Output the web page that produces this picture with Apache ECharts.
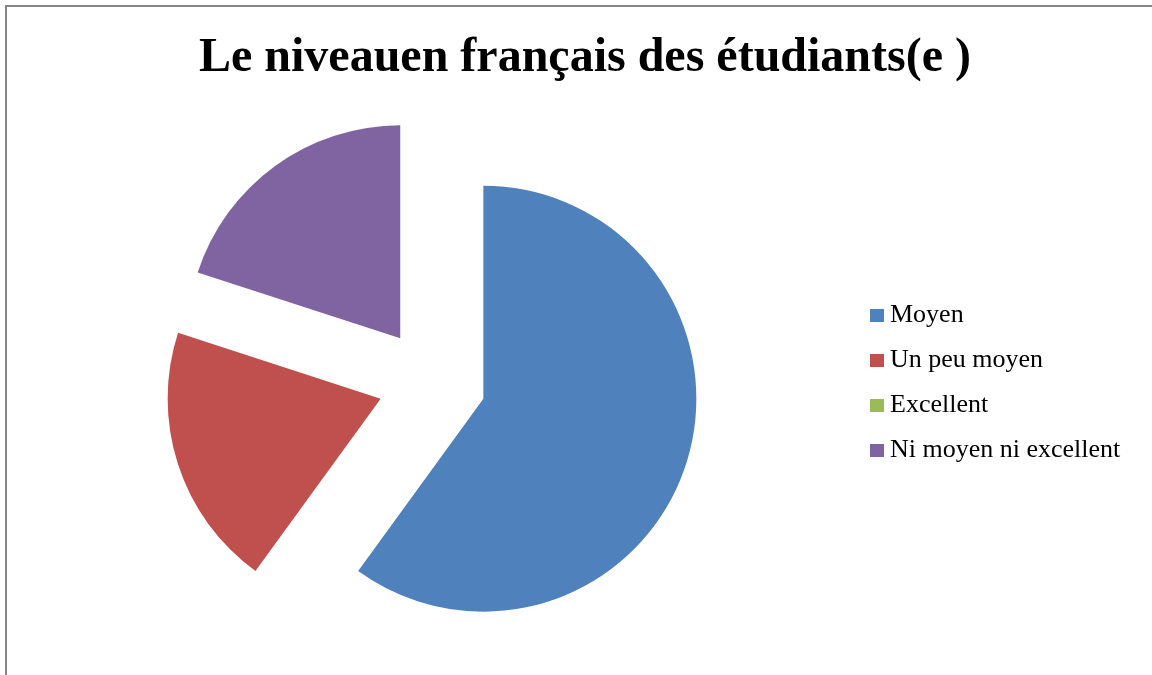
<!DOCTYPE html>
<html>
<head>
<meta charset="utf-8">
<script src="https://cdn.jsdelivr.net/npm/echarts@6/dist/echarts.min.js"></script>
<style>html,body{margin:0;padding:0;background:#fff;}#chart{width:1152px;height:675px;}</style>
</head>
<body>
<div id="chart"></div>
<script>
const titleText = "Le niveauen français des étudiants(e )";
const categories = ["Moyen", "Un peu moyen", "Excellent", "Ni moyen ni excellent"];
const values = [60, 20, 0, 20];
const colors = ["#4F81BD", "#C0504D", "#9BBB59", "#8064A2"];

const chart = echarts.init(document.getElementById('chart'), null, {renderer: 'canvas'});
chart.setOption({
  animation: false,
  backgroundColor: '#ffffff',
  title: {
    text: titleText,
    left: 580, top: 30, textAlign: 'center',
    textStyle: {fontFamily: 'Liberation Serif', fontWeight: 'bold', fontSize: 48, color: '#000'}
  },
  legend: {
    orient: 'vertical',
    left: 865, top: 288,
    itemWidth: 14, itemHeight: 13, itemGap: 0,
    icon: 'rect',
    selectedMode: false,
    textStyle: {fontFamily: 'Liberation Serif', fontSize: 26, color: '#000', lineHeight: 45, padding: [0,0,0,1]},
    data: categories
  },
  graphic: [{
    type: 'rect', shape: {x: 6, y: 6, width: 1170, height: 700},
    style: {fill: null, stroke: '#878787', lineWidth: 2}, silent: true
  }],
  series: [{
    type: 'pie',
    center: [432, 382],
    radius: 213,
    startAngle: 90,
    clockwise: true,
    selectedMode: 'multiple',
    selectedOffset: 54,
    avoidLabelOverlap: false,
    label: {show: false}, labelLine: {show: false},
    emphasis: {disabled: true},
    itemStyle: {borderWidth: 0},
    data: categories.map((c, i) => ({name: c, value: values[i], selected: true, itemStyle: {color: colors[i]}}))
  }]
});
</script>
</body>
</html>
